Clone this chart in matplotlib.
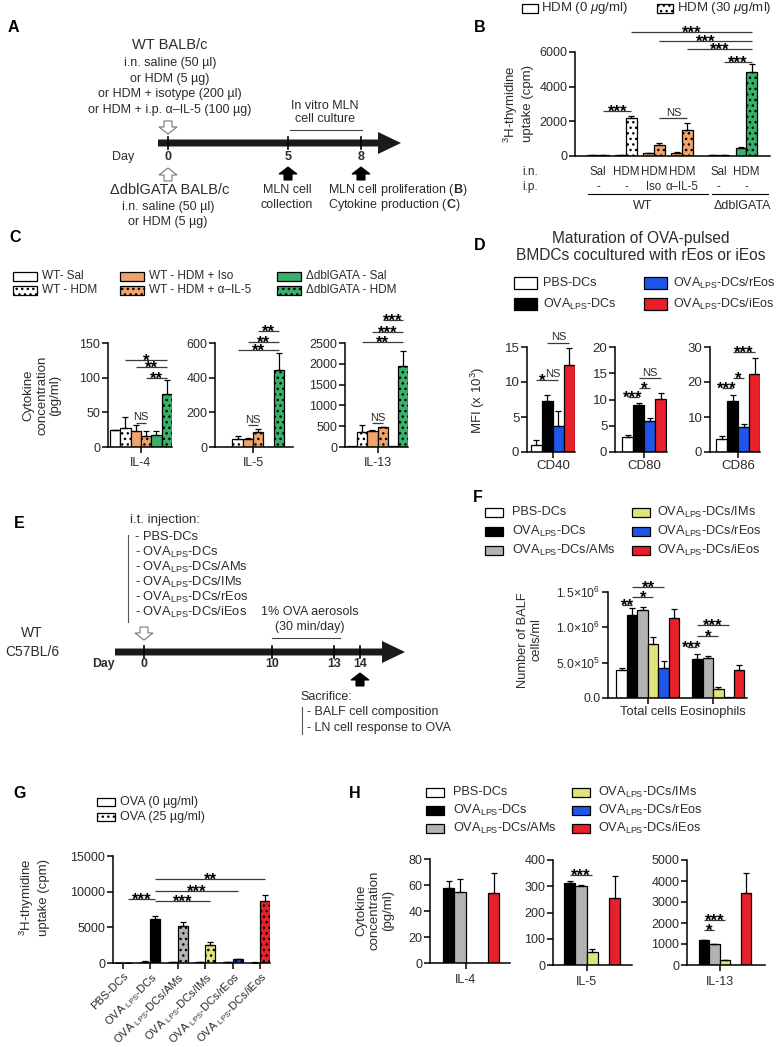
import numpy as np
import matplotlib
matplotlib.use("Agg")
import matplotlib.pyplot as plt
from matplotlib.patches import Rectangle, Polygon

plt.rcParams["font.family"] = ["Liberation Sans", "DejaVu Sans"]
plt.rcParams["mathtext.fontset"] = "custom"
plt.rcParams["mathtext.rm"] = "Liberation Sans"
plt.rcParams["mathtext.it"] = "Liberation Sans:italic"
plt.rcParams["mathtext.bf"] = "Liberation Sans:bold"
plt.rcParams["hatch.linewidth"] = 1.0

W, H = 777, 1047
TXT = "#2b2b2b"
ORANGE = "#f0a46c"
GREEN = "#38b06a"
BLUE = "#1f55e8"
RED = "#e8202a"
GREY = "#b3b3b3"
YELLOW = "#e3e37c"
DOTS = "..."

# ---------------- data ----------------
# B: MLN cell proliferation (cpm)
b_in = ["Sal", "HDM", "HDM", "HDM", "Sal", "HDM"]
b_ip = ["-", "-", "Iso", "α–IL-5", "-", "-"]
b_pos = [0, 1, 2, 3, 4.3, 5.3]
b_hdm0 = [30, 50, 150, 180, 30, 450]
b_hdm0_err = [5, 10, 30, 40, 5, 80]
b_hdm30 = [40, 2200, 650, 1500, 40, 4850]
b_hdm30_err = [5, 100, 80, 420, 5, 450]
b_sig = [(0, 1, 2600, "***"), (2, 3, 2190, "NS"), (1, 5, 7150, "***"),
         (2, 5, 6635, "***"), (3, 5, 6173, "***"), (4, 5, 5423, "***")]

# C: cytokines (pg/ml)
c_groups = ["WT- Sal", "WT - HDM", "WT - HDM + Iso", "WT - HDM + α–IL-5",
            "ΔdblGATA - Sal", "ΔdblGATA - HDM"]
c_names = ["IL-4", "IL-5", "IL-13"]
c_vals = [[24, 28, 23, 16, 18, 77],
          [0, 47, 45, 85, 0, 445],
          [30, 370, 390, 470, 30, 1950]]
c_errs = [[1, 15, 9, 7, 5, 19],
          [0, 17, 8, 20, 0, 100],
          [0, 170, 15, 15, 0, 350]]
c_ylim = [150, 600, 2500]
c_ystep = [50, 200, 500]
c_sig = [[(1, 5, 125, "*"), (2, 5, 115, "**"), (3, 5, 99.5, "**"), (2, 3, 35, "NS")],
         [(3, 5, 669, "**"), (2, 5, 606, "**"), (1, 5, 560, "**"), (2, 3, 127, "NS")],
         [(3, 5, 3050, "***"), (2, 5, 2764, "***"), (1, 5, 2524, "**"), (2, 3, 577, "NS")]]

# D: MFI (x10^3)
d_groups = ["PBS-DCs", r"OVA$_{\rm LPS}$-DCs", r"OVA$_{\rm LPS}$-DCs/rEos", r"OVA$_{\rm LPS}$-DCs/iEos"]
d_names = ["CD40", "CD80", "CD86"]
d_vals = [[1.0, 7.3, 3.7, 12.4], [2.8, 8.9, 5.9, 10.1], [3.6, 14.5, 7.2, 22.3]]
d_errs = [[0.7, 0.9, 2.2, 2.4], [0.4, 0.5, 0.6, 1.2], [1.0, 1.8, 0.8, 4.6]]
d_ylim = [15, 20, 30]
d_ystep = [5, 5, 10]
d_sig = [[(0, 1, 10.3, "*"), (1, 2, 10.3, "NS"), (1, 3, 15.6, "NS")],
         [(0, 1, 10.5, "***"), (1, 2, 12.2, "*"), (1, 3, 14.1, "NS")],
         [(0, 1, 18.3, "***"), (1, 2, 21.1, "*"), (1, 3, 28.6, "***")]]

# F: BALF cells (x10^6 cells/ml)
f_groups = ["PBS-DCs", r"OVA$_{\rm LPS}$-DCs", r"OVA$_{\rm LPS}$-DCs/AMs",
            r"OVA$_{\rm LPS}$-DCs/IMs", r"OVA$_{\rm LPS}$-DCs/rEos", r"OVA$_{\rm LPS}$-DCs/iEos"]
f_total = [0.40, 1.17, 1.25, 0.77, 0.43, 1.13]
f_total_err = [0.03, 0.10, 0.04, 0.10, 0.09, 0.13]
f_eos = [0.005, 0.55, 0.57, 0.13, 0.01, 0.40]
f_eos_err = [0, 0.07, 0.02, 0.03, 0, 0.07]
f_sig = [(0, 1, 1.32, "**"), (1, 3, 1.43, "*"), (1, 4, 1.57, "**"),
         (6, 7, 0.72, "***"), (7, 9, 0.88, "*"), (7, 10, 1.03, "***")]

# G: LN proliferation (cpm)
g_labels = ["PBS-DCs", r"OVA $_{\rm LPS}$-DCs", r"OVA $_{\rm LPS}$-DCs/AMs",
            r"OVA $_{\rm LPS}$-DCs/IMs", r"OVA $_{\rm LPS}$-DCs/rEos", r"OVA $_{\rm LPS}$-DCs/iEos"]
g_ova0 = [20, 200, 100, 80, 80, 60]
g_ova0_err = [5, 40, 30, 20, 20, 20]
g_ova25 = [30, 6100, 5200, 2500, 500, 8700]
g_ova25_err = [5, 450, 600, 400, 100, 900]
g_sig = [(0, 1, 8970, "***"), (1, 3, 8690, "***"), (1, 4, 10090, "***"), (1, 5, 11780, "**")]

# H: cytokines (pg/ml)
h_names = ["IL-4", "IL-5", "IL-13"]
h_vals = [[0, 58, 55, 0, 0, 54], [0, 312, 302, 50, 0, 255], [0, 1180, 980, 230, 0, 3430]]
h_errs = [[0, 5, 10, 0, 0, 15], [0, 8, 3, 10, 0, 85], [0, 30, 30, 20, 0, 950]]
h_ylim = [80, 400, 5000]
h_ystep = [20, 100, 1000]
h_sig = [[], [(1, 3, 343, "***")], [(1, 3, 2140, "***"), (1, 2, 1670, "*")]]

six_colors = ["white", "black", GREY, YELLOW, BLUE, RED]

# ---------------- helpers ----------------
fig = plt.figure(figsize=(W / 100, H / 100), dpi=100)
ov = fig.add_axes([0, 0, 1, 1])
ov.set_xlim(0, W)
ov.set_ylim(H, 0)
ov.axis("off")


def t(x, y, s, fs=8, ha="center", color=TXT, **kw):
    ov.text(x, y, s, fontsize=fs, ha=ha, va="center", color=color, **kw)


def box(x, y, w, h, fc, hatch=None):
    ov.add_patch(Rectangle((x, y - h / 2), w, h, facecolor=fc, edgecolor="k", lw=0.9, hatch=hatch))


def block_arrow(x, tip, up=True, fc="k", ec="k", hw=9, sw=4, hl=7, L=13):
    s = 1 if up else -1
    pts = [(x, tip), (x + hw, tip + s * hl), (x + sw, tip + s * hl), (x + sw, tip + s * L),
           (x - sw, tip + s * L), (x - sw, tip + s * hl), (x - hw, tip + s * hl)]
    ov.add_patch(Polygon(pts, closed=True, facecolor=fc, edgecolor=ec, lw=0.8))


def timeline(x0, x1, y, ticks, th=7, hh=11, hl=23):
    ov.add_patch(Polygon([(x0, y - th / 2), (x1 - hl, y - th / 2), (x1 - hl, y - hh), (x1, y),
                          (x1 - hl, y + hh), (x1 - hl, y + th / 2), (x0, y + th / 2)],
                         closed=True, facecolor="#1a1a1a", edgecolor="none"))
    for x in ticks:
        ov.plot([x, x], [y - 6, y + 6], color="k", lw=1.2)


def chart(x0, x1, ytop, ybot, xlim, ylim, yticks, fs=9):
    ax = fig.add_axes([x0 / W, 1 - ybot / H, (x1 - x0) / W, (ybot - ytop) / H])
    ax.patch.set_visible(False)
    ax.set_xlim(*xlim)
    ax.set_ylim(*ylim)
    ax.spines[["top", "right"]].set_visible(False)
    ax.spines[["left", "bottom"]].set_linewidth(1.1)
    ax.set_yticks(yticks)
    ax.tick_params(length=4, width=1.1, labelsize=fs, labelcolor=TXT, pad=1.5)
    ax.set_xticks([])
    return ax


def bars(ax, xs, vals, errs, colors, hatches, width=1.0):
    for x, v, e, c, h in zip(xs, vals, errs, colors, hatches):
        ax.bar(x, v, width, color=c, edgecolor="k", linewidth=0.9, hatch=h, zorder=2)
        if e > 0:
            ax.errorbar(x, v, yerr=[[0], [e]], fmt="none", ecolor="k", elinewidth=0.9,
                        capsize=2.5, capthick=0.9, zorder=3)


def sig(ax, marks, xs):
    for i1, i2, y, lab in marks:
        x1, x2 = xs[i1], xs[i2]
        ax.plot([x1, x2], [y, y], color="#3a3a3a", lw=0.9, clip_on=False, solid_capstyle="butt")
        if lab == "NS":
            ax.annotate(lab, ((x1 + x2) / 2, y), xytext=(0, 0.3), textcoords="offset points",
                        ha="center", va="bottom", fontsize=8, color=TXT, annotation_clip=False)
        else:
            ax.annotate(lab, ((x1 + x2) / 2, y), xytext=(0, -4.2), textcoords="offset points",
                        ha="center", va="baseline", fontsize=12, fontweight="bold", color="k",
                        annotation_clip=False)


def letter(x, y, s):
    t(x, y, s, fs=11.5, color="k", fontweight="bold")


# ---------------- A ----------------
letter(13, 27, "A")
t(170, 45, "WT BALB/c", fs=10.5)
for yy, s in zip([63, 79, 94, 110], ["i.n. saline (50 µl)", "or HDM (5 µg)",
                                      "or HDM + isotype (200 µl)", "or HDM + i.p. α–IL-5 (100 µg)"]):
    t(170, yy, s, fs=9)
block_arrow(168, 134, up=False, fc="white", ec="#777777")
timeline(158, 401, 143, [168, 288, 361])
t(123, 157, "Day", fs=9)
for x, s in zip([168, 288, 361], ["0", "5", "8"]):
    t(x, 157, s, fs=9, fontweight="bold")
t(325, 106, "In vitro MLN", fs=9)
t(325, 119, "cell culture", fs=9)
ov.plot([290, 362], [130, 130], color="#444444", lw=0.8)
block_arrow(168, 168, up=True, fc="white", ec="#777777")
block_arrow(288, 167, up=True)
block_arrow(361, 167, up=True)
t(170, 190, "ΔdblGATA BALB/c", fs=10.5)
t(168, 207, "i.n. saline (50 µl)", fs=9)
t(168, 222, "or HDM (5 µg)", fs=9)
t(287, 190, "MLN cell", fs=9)
t(287, 205, "collection", fs=9)
t(328, 190, r"MLN cell proliferation ($\mathbf{B}$)", fs=9, ha="left")
t(328, 205, r"Cytokine production ($\mathbf{C}$)", fs=9, ha="left")

# ---------------- B ----------------
letter(480, 27, "B")
box(522, 8, 16, 9, "white")
t(541, 8, r"HDM (0 $\mathit{\mu}$g/ml)", fs=9.5, ha="left")
box(657, 8, 16, 9, "white", DOTS)
t(677, 8, r"HDM (30 $\mathit{\mu}$g/ml)", fs=9.5, ha="left")
t(518, 104, "$^{3}$H-thymidine\nuptake (cpm)", fs=9.5, rotation=90, linespacing=1.3)

axb = chart(575, 770, 52, 156, ((575 - 598) / 28, (770 - 598) / 28), (0, 6000),
            [0, 2000, 4000, 6000], fs=9)
off = 0.19
bars(axb, [p - off for p in b_pos], b_hdm0, b_hdm0_err,
     ["white", "white", ORANGE, ORANGE, GREEN, GREEN], [None] * 6, 0.38)
bars(axb, [p + off for p in b_pos], b_hdm30, b_hdm30_err,
     ["white", "white", ORANGE, ORANGE, GREEN, GREEN], [DOTS] * 6, 0.38)
sig(axb, b_sig, [p + off for p in b_pos])
xt = axb.get_xaxis_transform()
fy = lambda ypx: (156 - ypx) / 104
for p, s1, s2 in zip(b_pos, b_in, b_ip):
    axb.text(p, fy(172), s1, transform=xt, ha="center", va="center", fontsize=8.3, color=TXT)
    axb.text(p, fy(187), s2, transform=xt, ha="center", va="center", fontsize=8.3, color=TXT)
t(522, 172, "i.n.", fs=8.5, ha="left")
t(522, 187, "i.p.", fs=8.5, ha="left")
ov.plot([588, 708], [194, 194], color="k", lw=0.8)
ov.plot([712, 768], [194, 194], color="k", lw=0.8)
t(643, 206, "WT", fs=9)
t(742, 206, "ΔdblGATA", fs=9)

# ---------------- C ----------------
letter(15, 237, "C")
c_colors = ["white", "white", ORANGE, ORANGE, GREEN, GREEN]
c_hatch = [None, DOTS, None, DOTS, None, DOTS]
for i, (lab, col, h) in enumerate(zip(c_groups, c_colors, c_hatch)):
    cx = [13, 120, 277][i // 2]
    yy = [276, 290][i % 2]
    box(cx, yy, 24, 9, col, h)
    t(cx + 29, yy, lab, fs=8.5, ha="left")
t(42, 395, "Cytokine\nconcentration\n(pg/ml)", fs=9.5, rotation=90, linespacing=1.15)
c_pix = [(108, 172, (-0.7, 5.52)), (215, 293, (-1.18, 6.37)), (345, 408, (-0.7, 5.5))]
xs6 = np.arange(6)
for k in range(3):
    x0, x1, xl = c_pix[k]
    ax = chart(x0, x1, 343, 447, xl, (0, c_ylim[k]),
               np.arange(0, c_ylim[k] + 1, c_ystep[k]))
    bars(ax, xs6, c_vals[k], c_errs[k], c_colors, c_hatch)
    sig(ax, c_sig[k], xs6)
    ax.set_xticks([2.5])
    ax.set_xticklabels([c_names[k]])
    ax.tick_params(axis="x", pad=3)

# ---------------- D ----------------
letter(480, 245, "D")
t(641, 238, "Maturation of OVA-pulsed", fs=11.2)
t(641, 256, "BMDCs cocultured with rEos or iEos", fs=11.2)
d_colors = ["white", "black", BLUE, RED]
for i, lab in enumerate(d_groups):
    bx, tx = [(514, 543), (644, 673)][i // 2]
    yy = [283, 304][i % 2]
    box(bx, yy, 23, 12, d_colors[i])
    t(tx, yy, lab, fs=9, ha="left")
t(478, 400, r"MFI (x 10$^{3}$)", fs=9.5, rotation=90)
d_pix = [(527, 575, (-0.86, 3.5)), (615, 667, (-1.14, 3.59)), (710, 760, (-1.05, 3.5))]
xs4 = np.arange(4)
for k in range(3):
    x0, x1, xl = d_pix[k]
    ax = chart(x0, x1, 347, 452, xl, (0, d_ylim[k]),
               np.arange(0, d_ylim[k] + 1, d_ystep[k]), fs=9.5)
    bars(ax, xs4, d_vals[k], d_errs[k], d_colors, [None] * 4)
    sig(ax, d_sig[k], xs4)
    ax.set_xticks([1.5])
    ax.set_xticklabels([d_names[k]], fontsize=9.5)
    ax.tick_params(axis="x", pad=1.5)

# ---------------- E ----------------
letter(19, 523, "E")
t(130, 520, "i.t. injection:", fs=9.5, ha="left")
e_items = ["- PBS-DCs"] + ["- " + g for g in f_groups[1:]]
for i, s in enumerate(e_items):
    t(135, 537 + 15 * i, s, fs=9.3, ha="left")
ov.plot([128, 128], [535, 622], color="#555555", lw=0.8)
t(32, 633, "WT", fs=10)
t(32, 652, "C57BL/6", fs=10)
block_arrow(144, 640, up=False, fc="white", ec="#777777")
timeline(115, 405, 652, [144, 272, 334, 360])
t(103, 664, "Day", fs=8.8, fontweight="bold")
for x, s in zip([144, 272, 334, 360], ["0", "10", "13", "14"]):
    t(x, 664, s, fs=8.8, fontweight="bold")
t(310, 612, "1% OVA aerosols", fs=9)
t(310, 627, "(30 min/day)", fs=9)
ov.plot([272, 340], [638, 638], color="#444444", lw=0.8)
block_arrow(360, 673, up=True)
t(300, 697, "Sacrifice:", fs=9, ha="left")
t(307, 712, "- BALF cell composition", fs=9, ha="left")
t(307, 728, "- LN cell response to OVA", fs=9, ha="left")
ov.plot([302, 302], [707, 734], color="#555555", lw=0.8)

# ---------------- F ----------------
letter(478, 497, "F")
for i, lab in enumerate(f_groups):
    bx, tx = [(485, 512), (632, 657)][i // 3]
    yy = [512, 531, 550][i % 3]
    box(bx, yy, 18, 9, six_colors[i])
    t(tx, yy, lab, fs=9.2, ha="left")
t(530, 640, "Number of BALF\ncells/ml", fs=9.3, rotation=90, linespacing=1.2)
axf = chart(608, 747, 592, 698, (-1.31, 11.94), (0, 1.5), [0, 0.5, 1.0, 1.5], fs=8.8)
axf.set_yticklabels(["0.0", "5.0×10$^{5}$", "1.0×10$^{6}$", "1.5×10$^{6}$"])
f_x = list(range(6)) + [6.2 + i for i in range(6)]
bars(axf, f_x, f_total + f_eos, f_total_err + f_eos_err, six_colors * 2, [None] * 12)
sig(axf, f_sig, f_x)
axf.set_xticks([2.5, 8.7])
axf.set_xticklabels(["Total cells", "Eosinophils"], fontsize=9.3)
axf.tick_params(axis="x", pad=2)

# ---------------- G ----------------
letter(20, 793, "G")
box(97, 802, 18, 8, "white")
t(120, 802, "OVA (0 µg/ml)", fs=9, ha="left")
box(97, 817, 18, 8, "white", DOTS)
t(120, 817, "OVA (25 µg/ml)", fs=9, ha="left")
t(34, 897, "$^{3}$H-thymidine\nuptake (cpm)", fs=9.5, rotation=90, linespacing=1.3)
axg = chart(113, 270, 856, 963, (-0.365, 5.36), (0, 15000), [0, 5000, 10000, 15000], fs=9)
gw = 0.365
g_x = np.arange(6)
bars(axg, g_x - gw / 2, g_ova0, g_ova0_err, six_colors, [None] * 6, gw)
bars(axg, g_x + gw / 2, g_ova25, g_ova25_err, six_colors, [DOTS] * 6, gw)
sig(axg, g_sig, g_x + gw / 2)
axg.set_xticks(g_x)
axg.set_xticklabels(g_labels, rotation=45, ha="right", rotation_mode="anchor", fontsize=8)
axg.tick_params(axis="x", pad=1.5)

# ---------------- H ----------------
letter(355, 793, "H")
for i, lab in enumerate(f_groups):
    bx, tx = [(426, 453), (572, 598)][i // 3]
    yy = [792, 810, 828][i % 3]
    box(bx, yy, 18, 9, six_colors[i])
    t(tx, yy, lab, fs=9.2, ha="left")
t(375, 910, "Cytokine\nconcentration\n(pg/ml)", fs=9.5, rotation=90, linespacing=1.15)
h_pix = [(430, 510, 859, 963, (-0.68, 6.46)), (553, 632, 860, 965, (-0.5, 6.55)),
         (687, 765, 860, 965, (-0.6, 6.83))]
for k in range(3):
    x0, x1, yt, yb, xl = h_pix[k]
    ax = chart(x0, x1, yt, yb, xl, (0, h_ylim[k]),
               np.arange(0, h_ylim[k] + 1, h_ystep[k]), fs=9)
    bars(ax, xs6, h_vals[k], h_errs[k], six_colors, [None] * 6)
    sig(ax, h_sig[k], xs6)
    ax.set_xticks([2.5])
    ax.set_xticklabels([h_names[k]])
    ax.tick_params(axis="x", pad=4)

fig.savefig("out.png", dpi=100)
